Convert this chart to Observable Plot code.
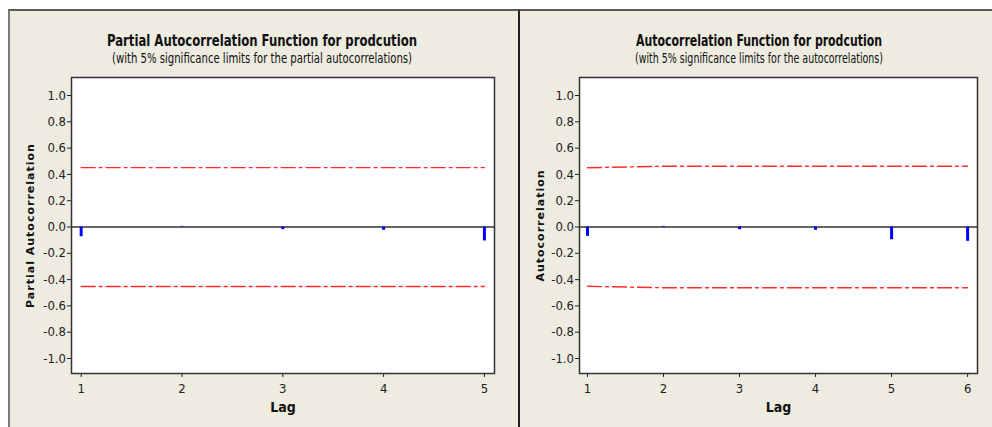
<!DOCTYPE html>
<html>
<head>
<meta charset="utf-8">
<script src="https://cdn.jsdelivr.net/npm/d3@7"></script>
<script src="https://cdn.jsdelivr.net/npm/@observablehq/plot@0.6"></script>
<style>
  body { margin: 0; background: #fff; }
  #root { position: relative; width: 992px; height: 427px; overflow: hidden; background: #fff; }
  .panel { position: absolute; background: #EEEBE0; box-sizing: border-box; }
  .title, .sub { position: absolute; white-space: nowrap; transform: translateX(-50%); color: #111;
    font-family: "DejaVu Sans Condensed", "DejaVu Sans", sans-serif; line-height: 1; }
  .title { font-weight: bold; font-size: 16px; top: 33px; }
  .sub { font-size: 13.5px; top: 52px; }
  .chart { position: absolute; top: 70px; }
</style>
</head>
<body>
<div id="root">
  <div class="panel" style="left:8px; top:9px; width:510px; height:418px; border-left:2px solid #7a7a7a; border-top:2px solid #5a5a5a;"></div>
  <div class="panel" style="left:518px; top:9px; width:474px; height:418px; border-left:2px solid #222; border-top:2px solid #5a5a5a;"></div>
  <div class="title" data-w="310" style="left:262px;">Partial Autocorrelation Function for prodcution</div>
  <div class="sub" data-w="300" style="left:262px;">(with 5% significance limits for the partial autocorrelations)</div>
  <div class="title" data-w="246" style="left:759px;">Autocorrelation Function for prodcution</div>
  <div class="sub" data-w="248" style="left:759px;">(with 5% significance limits for the autocorrelations)</div>
  <div class="chart" id="left" style="left:0px;"></div>
  <div class="chart" id="right" style="left:520px;"></div>
</div>
<script>
// ---- data ----
const pacfLags = [1, 2, 3, 4, 5];
const pacfValues = [-0.074, 0.005, -0.02, -0.025, -0.106];
const pacfLimits = [0.452, 0.452, 0.452, 0.452, 0.452];

const acfLags = [1, 2, 3, 4, 5, 6];
const acfValues = [-0.071, 0.005, -0.02, -0.025, -0.097, -0.109];
const acfLimits = [0.451, 0.462, 0.462, 0.462, 0.462, 0.462];

const yTicks = [-1.0, -0.8, -0.6, -0.4, -0.2, 0.0, 0.2, 0.4, 0.6, 0.8, 1.0];
const titles = {
  left: "Partial Autocorrelation",
  right: "Autocorrelation",
  x: "Lag"
};

function panel({lags, values, limits, width, marginLeft, marginRight, xDomain, ylabel, ylabelDx}) {
  const bars = lags.map((lag, i) => ({lag, value: values[i]}));
  const upper = lags.map((lag, i) => ({lag, value: limits[i]}));
  const lower = lags.map((lag, i) => ({lag, value: -limits[i]}));
  const tickFont = '"DejaVu Sans Condensed", "DejaVu Sans", sans-serif';
  return Plot.plot({
    width,
    height: 357,
    marginTop: 7,
    marginBottom: 54,
    marginLeft,
    marginRight,
    style: {background: "transparent", overflow: "visible", fontFamily: tickFont, fontSize: "13px", color: "#222"},
    x: {domain: xDomain, ticks: lags, tickFormat: d => String(d), tickSize: 4, tickPadding: 6, label: null},
    y: {domain: [-1.114, 1.137], ticks: yTicks, tickFormat: d => d.toFixed(1), tickSize: 4, tickPadding: 1.5, label: null},
    marks: [
      Plot.frame({fill: "white"}),
      Plot.ruleY([0], {stroke: "#333", strokeWidth: 1.5}),
      Plot.line(upper, {x: "lag", y: "value", stroke: "#ff2a2a", strokeWidth: 1.4, strokeDasharray: "14,4,3,4"}),
      Plot.line(lower, {x: "lag", y: "value", stroke: "#ff2a2a", strokeWidth: 1.4, strokeDasharray: "14,4,3,4"}),
      Plot.ruleX(bars, {x: "lag", y1: 0, y2: "value", stroke: "#0000ff", strokeWidth: 3}),
      Plot.frame({stroke: "#333", strokeWidth: 1.5}),
      Plot.text([ylabel], {frameAnchor: "left", dx: ylabelDx, rotate: -90, textAnchor: "middle", lineAnchor: "middle",
        fontWeight: "bold", fontSize: 11, fontFamily: '"DejaVu Sans", Verdana, sans-serif', fill: "#111"}),
      Plot.text([titles.x], {frameAnchor: "bottom", dy: 34, textAnchor: "middle", lineAnchor: "middle",
        fontWeight: "bold", fontSize: 14, fontFamily: '"DejaVu Sans Condensed", "DejaVu Sans", sans-serif', fill: "#111"})
    ]
  });
}

const left = panel({lags: pacfLags, values: pacfValues, limits: pacfLimits, width: 517, marginLeft: 71, marginRight: 23,
  xDomain: [0.904, 5.1], ylabel: titles.left, ylabelDx: -41});
const right = panel({lags: acfLags, values: acfValues, limits: acfLimits, width: 472, marginLeft: 59, marginRight: 15,
  xDomain: [0.895, 6.13], ylabel: titles.right, ylabelDx: -39});
document.getElementById("left").appendChild(left);
document.getElementById("right").appendChild(right);
// letter spacing on the rotated y labels
for (const svg of [left, right]) {
  svg.querySelectorAll("text").forEach(t => {
    if (t.textContent === titles.left || t.textContent === titles.right) t.setAttribute("letter-spacing", "1");
  });
}
// squeeze the titles horizontally to the reference's narrow typeface width
document.querySelectorAll("[data-w]").forEach(el => {
  const w = el.getBoundingClientRect().width;
  const target = +el.dataset.w;
  el.style.transform = `translateX(-50%) scaleX(${Math.min(1, target / w)})`;
});
</script>
</body>
</html>
